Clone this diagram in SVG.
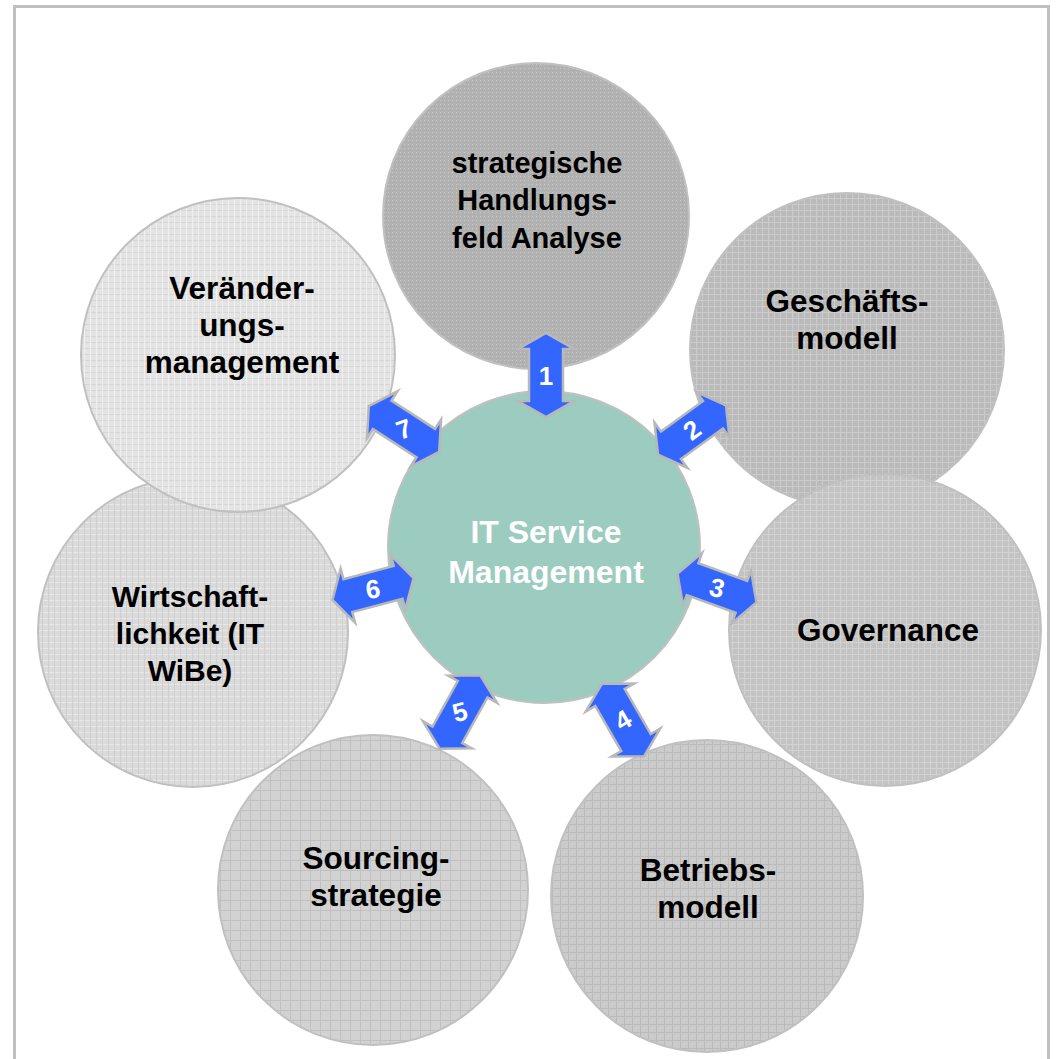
<svg xmlns="http://www.w3.org/2000/svg" width="1063" height="1059" viewBox="0 0 1063 1059">
<style>
.lbl{font-family:"Liberation Sans",Arial,sans-serif;font-weight:bold;font-size:31.5px;fill:#000;text-anchor:middle}
.s29{font-size:29px}
.s30{font-size:30px}
.ctr{font-family:"Liberation Sans",Arial,sans-serif;font-weight:bold;font-size:32px;fill:#fff;text-anchor:middle}
.num{font-family:"Liberation Sans",Arial,sans-serif;font-weight:bold;font-size:26px;fill:#fff;text-anchor:middle}
.circ{stroke:#c0c0c0;stroke-width:2}
.arrow{fill:#3366ff;stroke:#b8b8b8;stroke-width:2.5;stroke-linejoin:miter}
</style>
<defs>
<pattern id="p1" width="4" height="4" patternUnits="userSpaceOnUse"><rect width="4" height="4" fill="#b2b2b2"/><rect x="0" y="0" width="1" height="1" fill="#c8c8c8"/><rect x="2" y="2" width="1" height="1" fill="#a8a8a8"/></pattern>
<pattern id="p2" width="6" height="6" patternUnits="userSpaceOnUse"><rect width="6" height="6" fill="#bababa"/><rect x="0" y="0" width="6" height="1" fill="#cbcbcb"/><rect x="0" y="0" width="1" height="6" fill="#cbcbcb"/></pattern>
<pattern id="p3" width="6" height="6" patternUnits="userSpaceOnUse"><rect width="6" height="6" fill="#c3c3c3"/><rect x="0" y="0" width="6" height="1" fill="#d2d2d2"/><rect x="0" y="0" width="1" height="6" fill="#d2d2d2"/></pattern>
<pattern id="p4" width="8" height="8" patternUnits="userSpaceOnUse"><rect width="8" height="8" fill="#cbcbcb"/><rect x="0" y="0" width="8" height="1" fill="#bababa"/><rect x="0" y="0" width="1" height="8" fill="#bababa"/></pattern>
<pattern id="p5" width="10" height="10" patternUnits="userSpaceOnUse"><rect width="10" height="10" fill="#d2d2d2"/><rect x="0" y="0" width="10" height="1" fill="#c0c0c0"/><rect x="0" y="0" width="1" height="10" fill="#c0c0c0"/></pattern>
<pattern id="p6" width="6" height="6" patternUnits="userSpaceOnUse"><rect width="6" height="6" fill="#dadada"/><rect x="0" y="0" width="6" height="1" fill="#e8e8e8"/><rect x="0" y="0" width="1" height="6" fill="#cfcfcf"/></pattern>
<pattern id="p7" width="6" height="6" patternUnits="userSpaceOnUse"><rect width="6" height="6" fill="#e4e4e4"/><rect x="0" y="0" width="6" height="1" fill="#d6d6d6"/><rect x="0" y="0" width="1" height="6" fill="#efefef"/></pattern>
<path id="arr" d="M42,0 L26,-28 L26,-17 L-26,-17 L-26,-28 L-42,0 L-26,28 L-26,17 L26,17 L26,28 Z"/>
</defs>
<rect x="0" y="0" width="1063" height="1059" fill="#fff"/>
<rect x="14.5" y="6.5" width="1034" height="1060" fill="none" stroke="#c0c0c0" stroke-width="3"/>

<g id="node-strategisch">
<circle class="circ" cx="536" cy="216" r="153" fill="url(#p1)"/>
<text class="lbl s29" x="537" y="173">strategische</text>
<text class="lbl s29" x="537" y="210">Handlungs-</text>
<text class="lbl s29" x="537" y="248">feld Analyse</text>
</g>
<g id="node-geschaeft">
<circle class="circ" cx="847" cy="350" r="157" fill="url(#p2)"/>
<text class="lbl" x="847" y="312">Geschäfts-</text>
<text class="lbl" x="847" y="349">modell</text>
</g>
<g id="node-governance">
<circle class="circ" cx="885" cy="630" r="156" fill="url(#p3)"/>
<text class="lbl" x="888" y="641">Governance</text>
</g>
<g id="node-betrieb">
<circle class="circ" cx="707" cy="896" r="156" fill="url(#p4)"/>
<text class="lbl" x="708" y="881">Betriebs-</text>
<text class="lbl" x="708" y="918">modell</text>
</g>
<g id="node-sourcing">
<circle class="circ" cx="373" cy="890" r="155" fill="url(#p5)"/>
<text class="lbl" x="376" y="869">Sourcing-</text>
<text class="lbl" x="376" y="906">strategie</text>
</g>
<g id="node-wirtschaft">
<circle class="circ" cx="193" cy="632" r="155" fill="url(#p6)"/>
<text class="lbl s30" x="190" y="607">Wirtschaft-</text>
<text class="lbl s30" x="190" y="644">lichkeit (IT</text>
<text class="lbl s30" x="190" y="681">WiBe)</text>
</g>
<g id="node-veraenderung">
<circle class="circ" cx="238" cy="355" r="157" fill="url(#p7)"/>
<text class="lbl" x="242" y="299">Veränder-</text>
<text class="lbl" x="242" y="336">ungs-</text>
<text class="lbl" x="242" y="373">management</text>
</g>
<g id="node-itsm">
<circle class="circ" cx="544" cy="547" r="156" fill="#9ccbbf"/>
<text class="ctr" x="546" y="543">IT Service</text>
<text class="ctr" x="546" y="583">Management</text>
</g>

<g id="connectors">
<g transform="translate(546,375) rotate(-90)"><use href="#arr" class="arrow"/></g>
<text class="num" x="546" y="385">1</text>
<g transform="translate(692,430) rotate(-36)"><use href="#arr" class="arrow"/></g>
<text class="num" transform="translate(692,430) rotate(-36)" x="0" y="9">2</text>
<g transform="translate(717,588) rotate(20)"><use href="#arr" class="arrow"/></g>
<text class="num" transform="translate(717,588) rotate(15)" x="0" y="9">3</text>
<g transform="translate(623,720) rotate(60)"><use href="#arr" class="arrow"/></g>
<text class="num" transform="translate(623,720) rotate(-30)" x="0" y="9">4</text>
<g transform="translate(460,712) rotate(-61)"><use href="#arr" class="arrow"/></g>
<text class="num" transform="translate(460,712) rotate(-15)" x="0" y="9">5</text>
<g transform="translate(373,589) rotate(-15)"><use href="#arr" class="arrow"/></g>
<text class="num" transform="translate(373,589) rotate(-8)" x="0" y="9">6</text>
<g transform="translate(404,429) rotate(33)"><use href="#arr" class="arrow"/></g>
<text class="num" transform="translate(404,429) rotate(-20)" x="0" y="9">7</text>
</g>
</svg>
